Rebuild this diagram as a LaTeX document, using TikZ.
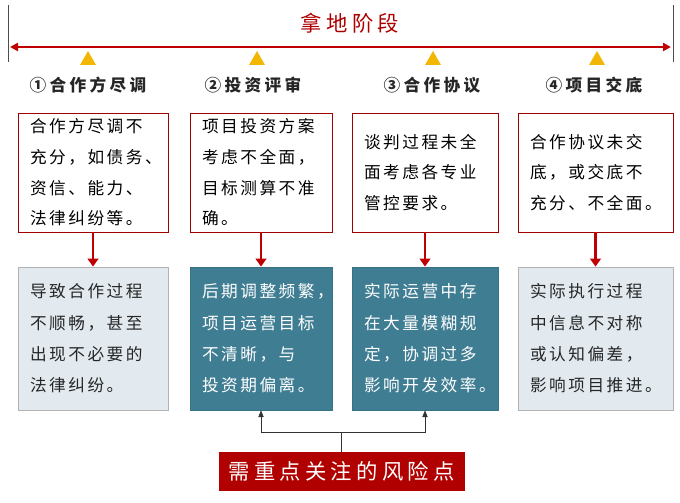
\documentclass[tikz,border=0pt]{standalone}
\usepackage{fontspec}
\setmainfont{Noto Sans CJK SC}
\newfontfamily\textecjk[LetterSpace=15]{Noto Sans CJK SC}
\newfontfamily\titrecjk[LetterSpace=20]{Noto Sans CJK SC}
\usetikzlibrary{arrows.meta}
\definecolor{rouge}{HTML}{C00000}
\definecolor{jaune}{HTML}{F2B705}
\definecolor{bleu}{HTML}{3F7D93}
\definecolor{gris}{HTML}{E2EAEF}
\tikzset{
  haut/.style={draw=rouge!85!black,line width=0.6pt,fill=white,inner xsep=9pt,
    align=left,minimum height=89.25pt,font=\textecjk\fontsize{12.5}{23}\selectfont},
  bas/.style={line width=0.6pt,inner xsep=9pt,align=left,minimum height=107.25pt,
    font=\textecjk\fontsize{12.5}{23.5}\selectfont},
  clair/.style={bas,draw=gray!60,fill=gris,text=black!85},
  fonce/.style={bas,draw=bleu!90!black,fill=bleu,text=white},
  etape/.style={font=\titrecjk\bfseries\fontsize{12.5}{14}\selectfont,text=black!85},
  lien/.style={rouge,line width=2.2pt,-{Triangle[width=8pt,length=6pt]}}
}
\begin{document}
\begin{tikzpicture}[x=0.75pt,y=-0.75pt]
	\useasboundingbox (0,0) rectangle (680,502);
	\draw[color=black!70,thin] (8,5)--(8,62); % bord gauche
	\draw[color=black!70,thin] (673,5)--(673,62); % bord droit
	\draw[rouge,line width=1.6pt,{Triangle[width=6pt,length=6pt]}-{Triangle[width=6pt,length=6pt]}] (10,47)--(671,47); % la flèche du temps
	\node[text=rouge!90!black,font=\titrecjk\fontsize{16}{18}\selectfont] (titre) at (350,23) {拿地阶段};
	\foreach \x in {88,257,433,597}
		\fill[jaune] (\x-8,65)--(\x+8,65)--(\x,51)--cycle;
	\node[etape] (e1) at (88,85) {①合作方尽调};
	\node[etape] (e2) at (253,85) {②投资评审};
	\node[etape] (e3) at (432,85) {③合作协议};
	\node[etape] (e4) at (594,85) {④项目交底};
	\node[haut,text width=94.5pt] (h1) at (93,172.5) {合作方尽调不\\充分，如债务、\\资信、能力、\\法律纠纷等。};
	\node[haut,text width=88.5pt] (h2) at (261,172.5) {项目投资方案\\考虑不全面，\\目标测算不准\\确。};
	\node[haut,text width=91.5pt] (h3) at (425,172.5) {谈判过程未全\\面考虑各专业\\管控要求。};
	\node[haut,text width=98.25pt] (h4) at (595.5,172.5) {合作协议未交\\底，或交底不\\充分、不全面。};
	\node[clair,text width=94.5pt] (b1) at (93,338.5) {导致合作过程\\不顺畅，甚至\\出现不必要的\\法律纠纷。};
	\node[fonce,text width=88.5pt] (b2) at (261,338.5) {后期调整频繁，\\项目运营目标\\不清晰，与\\投资期偏离。};
	\node[fonce,text width=91.5pt] (b3) at (425,338.5) {实际运营中存\\在大量模糊规\\定，协调过多\\影响开发效率。};
	\node[clair,text width=98.25pt] (b4) at (595.5,338.5) {实际执行过程\\中信息不对称\\或认知偏差，\\影响项目推进。};
	\foreach \i in {1,...,4}
		\draw[lien] (h\i.south)--(b\i.north);
	\node[fill=rouge!92!black,text=white,minimum width=184.5pt,minimum height=29pt,
		font=\titrecjk\fontsize{16}{18}\selectfont] (alerte) at (341.5,471.5) {需重点关注的风险点};
	\coordinate (fourche) at (341.5,432);
	\draw[black!80,thin] (alerte.north)--(fourche);
	\draw[black!80,thin,-{Triangle[width=4pt,length=5pt]}] (fourche)-|(b2.south);
	\draw[black!80,thin,-{Triangle[width=4pt,length=5pt]}] (fourche)-|(b3.south);
\end{tikzpicture}
\end{document}
